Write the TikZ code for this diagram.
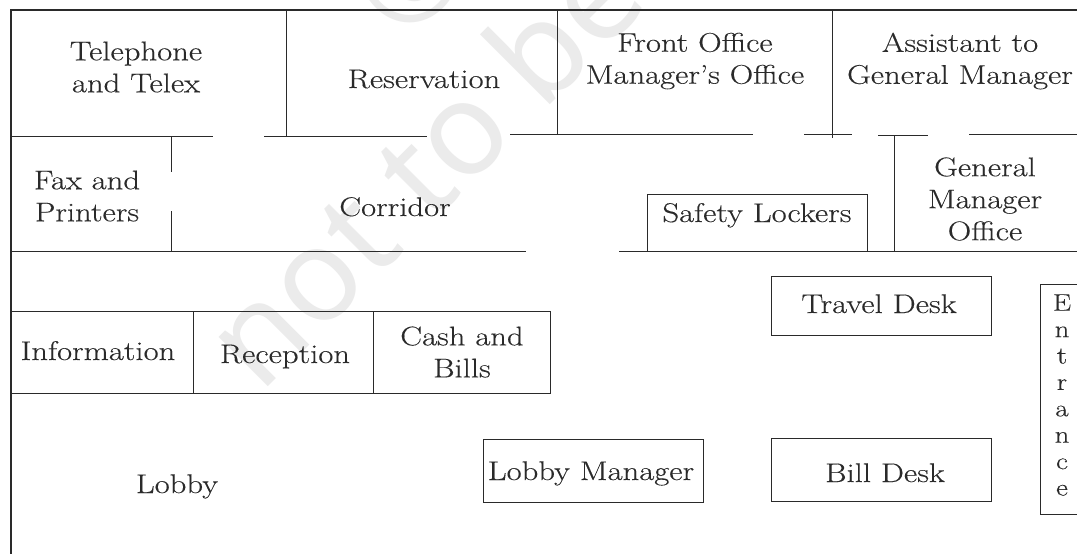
\documentclass[tikz,border=0pt]{standalone}
\usepackage{fontspec}
\setmainfont{Latin Modern Roman}[FakeStretch=1.21,FakeBold=0.25]
\newfontfamily\wmfont{Noto Sans}
\definecolor{ink}{HTML}{2A2A2A}
\definecolor{mark}{HTML}{EBEBEB}
\tikzset{
  wall/.style={draw=ink,line width=0.8pt},
  outer/.style={draw=ink,line width=2.2pt},
  lbl/.style={text=ink,inner sep=0pt,align=center,font=\fontsize{27}{32}\selectfont},
  onel/.style={lbl,anchor=base},
  stamp/.style={text=mark,inner sep=0pt,font=\wmfont\fontsize{130}{130}\selectfont}
}
\begin{document}
\begin{tikzpicture}[x=1pt,y=-1pt]
\useasboundingbox[fill=white] (0,0) rectangle (1077,554);
% watermark
\begin{scope}
\clip (0,0) rectangle (1077,554);
\node[stamp,rotate=45,anchor=base] (wm) at (456,199) {not to be};
\node[stamp,rotate=45,anchor=center] (wmc) at (410,-26) {©};
\end{scope}
% outer walls
\draw[outer] (1077,10) -- (11,10) -- (11,554);
% upper partition
\draw[wall] (11,136) -- (213,136);
\draw[wall] (264,136) -- (427,136);
\draw[wall] (510,134) -- (753,134);
\draw[wall] (804,134) -- (852,134);
\draw[wall] (878,135) -- (928,135);
\draw[wall] (969,134) -- (1077,134);
\draw[wall] (286,10) -- (286,137);
\draw[wall] (557,10) -- (557,135);
\draw[wall] (832,10) -- (832,138);
\draw[wall] (894,135) -- (894,251);
% fax room
\draw[wall] (171.5,136) -- (171.5,172);
\draw[wall] (171,211) -- (171,251);
% lower partition
\draw[wall] (11,251) -- (526,251);
\draw[wall] (619,251) -- (1077,251);
% boxes
\draw[wall] (647,194) rectangle (867,251);
\draw[wall] (11,311) rectangle (550,393);
\draw[wall] (193,311) -- (193,393);
\draw[wall] (373,311) -- (373,393);
\draw[wall] (771,276) rectangle (991,335);
\draw[wall] (483,439) rectangle (703,502);
\draw[wall] (771,438) rectangle (991,501);
\draw[wall] (1077,284) -- (1040,284) -- (1040,514) -- (1077,514);
% labels
\node[lbl] (tel) at (136,67) {Telephone\\and Telex};
\node[onel] (res) at (424,88) {Reservation};
\node[lbl] (fom) at (695,61) {Front Office\\Manager's Office};
\node[lbl] (asg) at (960,61) {Assistant to\\General Manager};
\node[lbl] (fax) at (87,196) {Fax and\\Printers};
\node[onel] (cor) at (395,216) {Corridor};
\node[onel] (saf) at (757,222) {Safety Lockers};
\node[lbl] (gmo) at (985,199) {General\\Manager\\Office};
\node[onel] (trv) at (879,313) {Travel Desk};
\node[onel] (inf) at (98,360) {Information};
\node[onel] (rec) at (285,363) {Reception};
\node[lbl] (csh) at (462,352) {Cash and\\Bills};
\node[onel] (lob) at (177,493) {Lobby};
\node[onel] (lmg) at (591,480) {Lobby Manager};
\node[onel] (bil) at (885,482) {Bill Desk};
\node[lbl,font=\fontsize{24}{26.4}\selectfont] (ent) at (1062,395) {E\\n\\t\\r\\a\\n\\c\\e};
\end{tikzpicture}
\end{document}
